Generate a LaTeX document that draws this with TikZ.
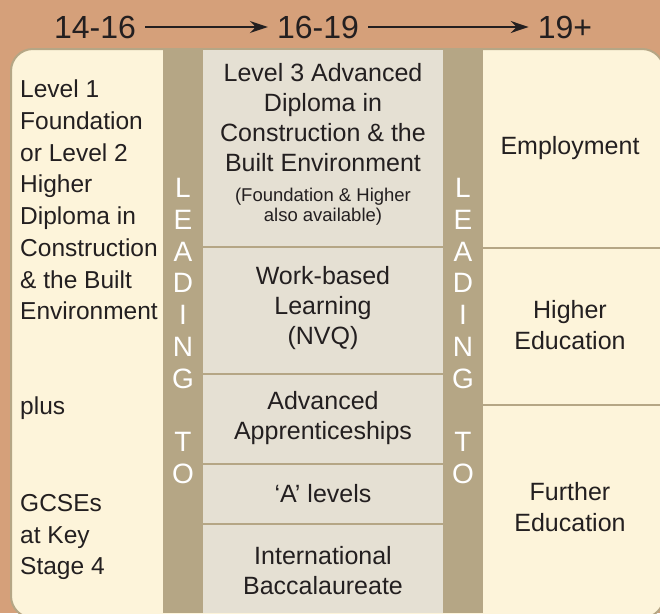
\documentclass[tikz,border=0pt]{standalone}
\usepackage{fontspec}
\setmainfont{Liberation Sans}
\usetikzlibrary{arrows.meta}
\usetikzlibrary{positioning}
\definecolor{woodtan}{RGB}{213,160,122}
\definecolor{paper}{RGB}{253,244,218}
\definecolor{stripe}{RGB}{181,166,133}
\definecolor{midgrey}{RGB}{229,224,211}
\definecolor{inkdark}{RGB}{35,31,32}
\tikzset{
    age/.style={
        font=\fontsize{32}{36}\selectfont,
        text=inkdark,
        inner sep=0pt
    },
    agearrow/.style={
        draw=inkdark,
        line width=2pt,
        -{Stealth[length=18pt, width=12pt]},
        shorten <=9pt,
        shorten >=9pt
    }
}

\begin{document}
\begin{tikzpicture}[x=1pt,y=-1pt]
  \tikzset{
    lefttext/.style={
      font=\fontsize{24.5}{31.7}\selectfont,
      text=inkdark,
      align=left,
      anchor=west,
      inner sep=0pt
    },
    midtext/.style={
      font=\fontsize{25}{30}\selectfont,
      text=inkdark,
      align=center,
      inner sep=0pt
    },
    smalltext/.style={
      font=\fontsize{18.5}{20}\selectfont,
      text=inkdark,
      align=center,
      inner sep=0pt
    },
    sidetext/.style={
      font=\fontsize{25}{31.5}\selectfont,
      text=inkdark,
      align=center,
      inner sep=0pt
    },
    leadtext/.style={
      font=\fontsize{28}{31.8}\selectfont,
      text=white,
      align=center,
      inner sep=0pt
    },
    rule/.style={
      draw=stripe,
      line width=2.5pt
    }
  }
  \useasboundingbox (0,0) rectangle (660,613);

  % wood behind the board
  \fill[woodtan] (0,0) rectangle (660,613);

  % board
  \begin{scope}
    \clip (0,0) rectangle (660,613);
    \filldraw[fill=paper, draw=stripe, line width=2pt, rounded corners=22pt]
      (11,49) rectangle (664,618);
    \fill[midgrey] (203,50) rectangle (443,613);
    \fill[stripe] (163,50) rectangle (203,613);
    \fill[stripe] (443,50) rectangle (483,613);
    \foreach \y in {247,374,464,524}
      \draw[rule] (203,\y) -- (443,\y);
    \foreach \y in {248,405}
      \draw[rule] (483,\y) -- (664,\y);
  \end{scope}

  % ages
  \node[age] (a14) at (95,27) {14-16};
  \node[age] (a16) at (318,27) {16-19};
  \node[age] (a19) at (565,27) {19+};
  \draw[agearrow] (a14) -- (a16);
  \draw[agearrow] (a16) -- (a19);

  % 14-16
  \node[lefttext] (diploma) at (20,200) {Level 1\\Foundation\\or Level 2\\Higher\\Diploma in\\Construction\\\& the Built\\Environment};
  \node[lefttext] (plus) at (20,408) {plus};
  \node[lefttext] (gcse) at (20,537) {GCSEs\\at Key\\Stage 4};

  % leading to
  \node[leadtext] (leadL) at (183,331) {L\\E\\A\\D\\I\\N\\G\\[31.8pt]T\\O};
  \node[leadtext] (leadR) at (463,331) {L\\E\\A\\D\\I\\N\\G\\[31.8pt]T\\O};

  % 16-19
  \node[midtext] (advdip) at (323,118) {Level 3 Advanced\\Diploma in\\Construction \& the\\Built Environment};
  \node[smalltext] (advnote) at (323,207) {(Foundation \& Higher\\also available)};
  \node[midtext] (nvq) at (323,308) {Work-based\\Learning\\(NVQ)};
  \node[midtext] (appr) at (323,418) {Advanced\\Apprenticeships};
  \node[midtext] (alevel) at (323,494) {`A' levels};
  \node[midtext] (ib) at (323,571) {International\\Baccalaureate};

  % 19+
  \node[sidetext] (job) at (570,148) {Employment};
  \node[sidetext] (he) at (570,325) {Higher\\Education};
  \node[sidetext] (fe) at (570,507) {Further\\Education};
\end{tikzpicture}
\end{document}
